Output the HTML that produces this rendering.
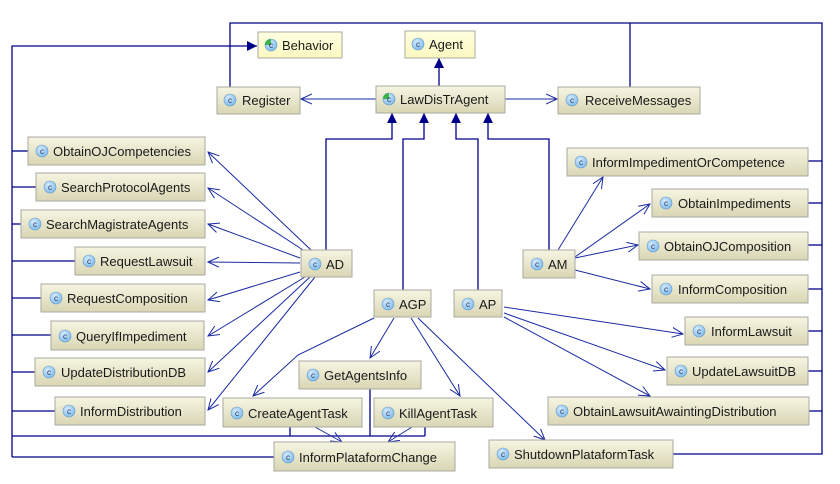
<!DOCTYPE html>
<html><head><meta charset="utf-8"><style>
html,body{margin:0;padding:0;background:#fff;width:840px;height:484px;overflow:hidden}
svg text{font-family:"Liberation Sans","DejaVu Sans",sans-serif;font-size:13px;fill:#1a1a1a}
svg .ic text, svg text.c{font-size:8px;fill:#1a2a5a;text-anchor:middle}
</style></head><body>
<svg width="840" height="484" viewBox="0 0 840 484" xmlns="http://www.w3.org/2000/svg">
<defs>
<linearGradient id="g" x1="0" y1="0" x2="0" y2="1"><stop offset="0" stop-color="#f6f5e2"/><stop offset="1" stop-color="#d9d6b4"/></linearGradient>
<linearGradient id="y" x1="0" y1="0" x2="0" y2="1"><stop offset="0" stop-color="#ffffe0"/><stop offset="1" stop-color="#fbf8c0"/></linearGradient>
<radialGradient id="ic" cx="0.4" cy="0.35" r="0.7"><stop offset="0" stop-color="#d8ecff"/><stop offset="1" stop-color="#79b8ea"/></radialGradient>
<marker id="tri" viewBox="0 0 10 10" refX="10" refY="5" markerWidth="10" markerHeight="10" markerUnits="userSpaceOnUse" orient="auto"><path d="M0,0 L10,5 L0,10 z" fill="#000088"/></marker>
<marker id="open" viewBox="0 0 12 12" refX="11" refY="6" markerWidth="12" markerHeight="12" markerUnits="userSpaceOnUse" orient="auto"><path d="M0,1 L11,6 L0,11" fill="none" stroke="#1a2aa0" stroke-width="1"/></marker>
</defs>
<g fill="none" stroke="#000088" stroke-width="1.3">
<polyline points="12,457 12,46 257,46" marker-end="url(#tri)"/>
<line x1="12" y1="151" x2="28" y2="151"/>
<line x1="12" y1="187" x2="36" y2="187"/>
<line x1="12" y1="224" x2="21" y2="224"/>
<line x1="12" y1="261" x2="75" y2="261"/>
<line x1="12" y1="298" x2="41" y2="298"/>
<line x1="12" y1="335" x2="51" y2="335"/>
<line x1="12" y1="372" x2="35" y2="372"/>
<line x1="12" y1="411" x2="55" y2="411"/>
<line x1="12" y1="436" x2="425" y2="436"/>
<line x1="12" y1="457" x2="274" y2="457"/>
<line x1="290" y1="427" x2="290" y2="436"/>
<line x1="370" y1="389" x2="370" y2="436"/>
<line x1="425" y1="427" x2="425" y2="436"/>
<polyline points="230,87 230,23 822,23 822,454 673,454"/>
<line x1="630" y1="23" x2="630" y2="87"/>
<line x1="808" y1="161" x2="822" y2="161"/>
<line x1="808" y1="203" x2="822" y2="203"/>
<line x1="808" y1="245" x2="822" y2="245"/>
<line x1="808" y1="289" x2="822" y2="289"/>
<line x1="808" y1="331" x2="822" y2="331"/>
<line x1="808" y1="371" x2="822" y2="371"/>
<line x1="809" y1="411" x2="822" y2="411"/>
<line x1="439" y1="86" x2="439" y2="58" marker-end="url(#tri)"/>
<polyline points="326,250 326,139 392,139 392,113" marker-end="url(#tri)"/>
<polyline points="403,290 403,139 424,139 424,113" marker-end="url(#tri)"/>
<polyline points="478,290 478,139 456,139 456,113" marker-end="url(#tri)"/>
<polyline points="549,250 549,139 488,139 488,113" marker-end="url(#tri)"/>
</g>
<g fill="none" stroke="#1a2aa0" stroke-width="1">
<line x1="376" y1="99" x2="301" y2="99" marker-end="url(#open)"/>
<line x1="505" y1="99" x2="557" y2="99" marker-end="url(#open)"/>
<line x1="311" y1="250" x2="208" y2="152" marker-end="url(#open)"/>
<line x1="303" y1="250" x2="208" y2="188" marker-end="url(#open)"/>
<line x1="300" y1="258" x2="208" y2="224" marker-end="url(#open)"/>
<line x1="300" y1="263" x2="208" y2="262" marker-end="url(#open)"/>
<line x1="300" y1="272" x2="208" y2="300" marker-end="url(#open)"/>
<line x1="305" y1="277" x2="208" y2="336" marker-end="url(#open)"/>
<line x1="310" y1="277" x2="208" y2="372" marker-end="url(#open)"/>
<line x1="315" y1="277" x2="208" y2="410" marker-end="url(#open)"/>
<line x1="558" y1="250" x2="603" y2="177" marker-end="url(#open)"/>
<line x1="575" y1="257" x2="650" y2="204" marker-end="url(#open)"/>
<line x1="575" y1="258" x2="638" y2="245" marker-end="url(#open)"/>
<line x1="575" y1="270" x2="650" y2="289" marker-end="url(#open)"/>
<line x1="504" y1="307" x2="683" y2="334" marker-end="url(#open)"/>
<line x1="504" y1="313" x2="665" y2="370" marker-end="url(#open)"/>
<line x1="504" y1="317" x2="650" y2="396" marker-end="url(#open)"/>
<polyline points="374,318 298,355 253,396" marker-end="url(#open)"/>
<line x1="394" y1="318" x2="370" y2="358" marker-end="url(#open)"/>
<line x1="411" y1="318" x2="460" y2="396" marker-end="url(#open)"/>
<line x1="418" y1="318" x2="545" y2="440" marker-end="url(#open)"/>
<line x1="315" y1="427" x2="342" y2="442" marker-end="url(#open)"/>
<line x1="412" y1="427" x2="388" y2="442" marker-end="url(#open)"/>
</g>
<g>
<rect x="258" y="32" width="84" height="26" fill="url(#y)" stroke="#aaa9a0"/><circle cx="271" cy="45" r="6" fill="url(#ic)" stroke="#6a9cc8" stroke-width=".6"/><path d="M271,39 A6,6 0 0,0 265,45 L271,45z" fill="#3bb34a"/><text x="282" y="50">Behavior</text>
<rect x="405" y="31" width="70" height="27" fill="url(#y)" stroke="#aaa9a0"/><circle cx="418" cy="44" r="6" fill="url(#ic)" stroke="#6a9cc8" stroke-width=".6"/><text x="429" y="49">Agent</text>
<rect x="376" y="86" width="129" height="27" fill="url(#g)" stroke="#aaa9a0"/><circle cx="389" cy="99" r="6" fill="url(#ic)" stroke="#6a9cc8" stroke-width=".6"/><path d="M389,93 A6,6 0 0,0 383,99 L389,99z" fill="#3bb34a"/><text x="400" y="104">LawDisTrAgent</text>
<rect x="217" y="87" width="83" height="27" fill="url(#g)" stroke="#aaa9a0"/><circle cx="230" cy="100" r="6" fill="url(#ic)" stroke="#6a9cc8" stroke-width=".6"/><text x="242" y="105">Register</text>
<rect x="558" y="87" width="142" height="27" fill="url(#g)" stroke="#aaa9a0"/><circle cx="572" cy="100" r="6" fill="url(#ic)" stroke="#6a9cc8" stroke-width=".6"/><text x="585" y="105">ReceiveMessages</text>
<rect x="28" y="137" width="177" height="28" fill="url(#g)" stroke="#aaa9a0"/><circle cx="42" cy="151" r="6" fill="url(#ic)" stroke="#6a9cc8" stroke-width=".6"/><text x="53" y="156">ObtainOJCompetencies</text>
<rect x="36" y="173" width="169" height="28" fill="url(#g)" stroke="#aaa9a0"/><circle cx="50" cy="187" r="6" fill="url(#ic)" stroke="#6a9cc8" stroke-width=".6"/><text x="61" y="192">SearchProtocolAgents</text>
<rect x="21" y="210" width="184" height="28" fill="url(#g)" stroke="#aaa9a0"/><circle cx="35" cy="224" r="6" fill="url(#ic)" stroke="#6a9cc8" stroke-width=".6"/><text x="46" y="229">SearchMagistrateAgents</text>
<rect x="75" y="247" width="130" height="28" fill="url(#g)" stroke="#aaa9a0"/><circle cx="89" cy="261" r="6" fill="url(#ic)" stroke="#6a9cc8" stroke-width=".6"/><text x="100" y="266">RequestLawsuit</text>
<rect x="41" y="284" width="164" height="28" fill="url(#g)" stroke="#aaa9a0"/><circle cx="56" cy="298" r="6" fill="url(#ic)" stroke="#6a9cc8" stroke-width=".6"/><text x="67" y="303">RequestComposition</text>
<rect x="51" y="321" width="153" height="29" fill="url(#g)" stroke="#aaa9a0"/><circle cx="65" cy="336" r="6" fill="url(#ic)" stroke="#6a9cc8" stroke-width=".6"/><text x="76" y="341">QueryIfImpediment</text>
<rect x="35" y="358" width="170" height="28" fill="url(#g)" stroke="#aaa9a0"/><circle cx="49" cy="372" r="6" fill="url(#ic)" stroke="#6a9cc8" stroke-width=".6"/><text x="61" y="377">UpdateDistributionDB</text>
<rect x="55" y="397" width="150" height="28" fill="url(#g)" stroke="#aaa9a0"/><circle cx="69" cy="411" r="6" fill="url(#ic)" stroke="#6a9cc8" stroke-width=".6"/><text x="80" y="416">InformDistribution</text>
<rect x="301" y="250" width="51" height="27" fill="url(#g)" stroke="#aaa9a0"/><circle cx="315" cy="264" r="6" fill="url(#ic)" stroke="#6a9cc8" stroke-width=".6"/><text x="326" y="269">AD</text>
<rect x="374" y="290" width="57" height="27" fill="url(#g)" stroke="#aaa9a0"/><circle cx="388" cy="304" r="6" fill="url(#ic)" stroke="#6a9cc8" stroke-width=".6"/><text x="399" y="309">AGP</text>
<rect x="454" y="290" width="48" height="27" fill="url(#g)" stroke="#aaa9a0"/><circle cx="468" cy="304" r="6" fill="url(#ic)" stroke="#6a9cc8" stroke-width=".6"/><text x="479" y="309">AP</text>
<rect x="523" y="250" width="52" height="28" fill="url(#g)" stroke="#aaa9a0"/><circle cx="537" cy="264" r="6" fill="url(#ic)" stroke="#6a9cc8" stroke-width=".6"/><text x="548" y="269">AM</text>
<rect x="567" y="148" width="241" height="28" fill="url(#g)" stroke="#aaa9a0"/><circle cx="581" cy="162" r="6" fill="url(#ic)" stroke="#6a9cc8" stroke-width=".6"/><text x="592" y="167">InformImpedimentOrCompetence</text>
<rect x="652" y="189" width="156" height="28" fill="url(#g)" stroke="#aaa9a0"/><circle cx="666" cy="203" r="6" fill="url(#ic)" stroke="#6a9cc8" stroke-width=".6"/><text x="678" y="208">ObtainImpediments</text>
<rect x="639" y="232" width="169" height="28" fill="url(#g)" stroke="#aaa9a0"/><circle cx="653" cy="246" r="6" fill="url(#ic)" stroke="#6a9cc8" stroke-width=".6"/><text x="664" y="251">ObtainOJComposition</text>
<rect x="652" y="275" width="156" height="28" fill="url(#g)" stroke="#aaa9a0"/><circle cx="666" cy="289" r="6" fill="url(#ic)" stroke="#6a9cc8" stroke-width=".6"/><text x="678" y="294">InformComposition</text>
<rect x="685" y="317" width="123" height="28" fill="url(#g)" stroke="#aaa9a0"/><circle cx="699" cy="331" r="6" fill="url(#ic)" stroke="#6a9cc8" stroke-width=".6"/><text x="711" y="336">InformLawsuit</text>
<rect x="667" y="357" width="141" height="28" fill="url(#g)" stroke="#aaa9a0"/><circle cx="681" cy="371" r="6" fill="url(#ic)" stroke="#6a9cc8" stroke-width=".6"/><text x="692" y="376">UpdateLawsuitDB</text>
<rect x="548" y="397" width="261" height="28" fill="url(#g)" stroke="#aaa9a0"/><circle cx="562" cy="411" r="6" fill="url(#ic)" stroke="#6a9cc8" stroke-width=".6"/><text x="573" y="416">ObtainLawsuitAwaintingDistribution</text>
<rect x="489" y="440" width="184" height="28" fill="url(#g)" stroke="#aaa9a0"/><circle cx="503" cy="454" r="6" fill="url(#ic)" stroke="#6a9cc8" stroke-width=".6"/><text x="514" y="459">ShutdownPlataformTask</text>
<rect x="299" y="361" width="122" height="28" fill="url(#g)" stroke="#aaa9a0"/><circle cx="313" cy="375" r="6" fill="url(#ic)" stroke="#6a9cc8" stroke-width=".6"/><text x="324" y="380">GetAgentsInfo</text>
<rect x="223" y="398" width="139" height="29" fill="url(#g)" stroke="#aaa9a0"/><circle cx="237" cy="413" r="6" fill="url(#ic)" stroke="#6a9cc8" stroke-width=".6"/><text x="248" y="418">CreateAgentTask</text>
<rect x="374" y="398" width="119" height="29" fill="url(#g)" stroke="#aaa9a0"/><circle cx="388" cy="413" r="6" fill="url(#ic)" stroke="#6a9cc8" stroke-width=".6"/><text x="399" y="418">KillAgentTask</text>
<rect x="274" y="442" width="181" height="29" fill="url(#g)" stroke="#aaa9a0"/><circle cx="288" cy="457" r="6" fill="url(#ic)" stroke="#6a9cc8" stroke-width=".6"/><text x="299" y="462">InformPlataformChange</text>
</g>
<g class="ic">
<text x="271" y="48">c</text><text x="418" y="47">c</text><text x="389" y="102">c</text><text x="230" y="103">c</text><text x="572" y="103">c</text>
<text x="42" y="154">c</text><text x="50" y="190">c</text><text x="35" y="227">c</text><text x="89" y="264">c</text><text x="56" y="301">c</text>
<text x="65" y="339">c</text><text x="49" y="375">c</text><text x="69" y="414">c</text><text x="315" y="267">c</text><text x="388" y="307">c</text>
<text x="468" y="307">c</text><text x="537" y="267">c</text><text x="581" y="165">c</text><text x="666" y="206">c</text><text x="653" y="249">c</text>
<text x="666" y="292">c</text><text x="699" y="334">c</text><text x="681" y="374">c</text><text x="562" y="414">c</text><text x="503" y="457">c</text>
<text x="313" y="378">c</text><text x="237" y="416">c</text><text x="388" y="416">c</text><text x="288" y="460">c</text>
</g>
</svg>
</body></html>
